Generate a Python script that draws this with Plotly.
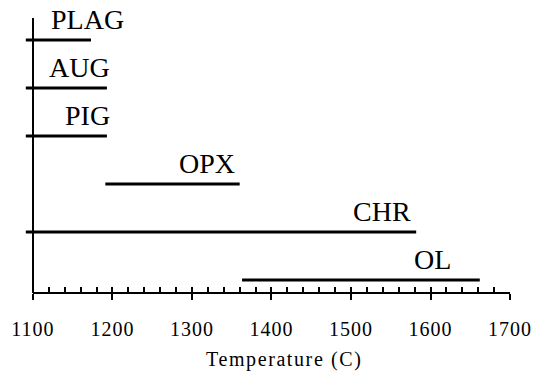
import plotly.graph_objects as go

# ---- data ----
minerals = ["PLAG", "AUG", "PIG", "OPX", "CHR", "OL"]
levels = [6, 5, 4, 3, 2, 1]
t_start = [1091, 1091, 1091, 1191, 1091, 1363]
t_end = [1173, 1193, 1193, 1360, 1582, 1662]
label_x = [1217, 1199, 1199, 1357, 1578, 1628]
tick_vals = [1100, 1200, 1300, 1400, 1500, 1600, 1700]
tick_text = [str(v) for v in tick_vals]
x_title = "Temperature (C)"

FONT = "Liberation Serif"
X_RANGE = [1086.2, 1700]
Y_RANGE = [0.729, 6.458]

fig = go.Figure()
for name, lv, a, b in zip(minerals, levels, t_start, t_end):
    fig.add_trace(go.Scatter(x=[a, b], y=[lv, lv], mode="lines",
                             line=dict(color="black", width=3),
                             showlegend=False, hoverinfo="skip", name=name))

# invisible trace so the overlay tick axis is drawn
fig.add_trace(go.Scatter(x=[tick_vals[0], tick_vals[-1]], y=[levels[-1], levels[-1]],
                         xaxis="x2", mode="lines", line=dict(width=0),
                         opacity=0, showlegend=False, hoverinfo="skip"))

for name, lv, lx in zip(minerals, levels, label_x):
    fig.add_annotation(x=lx, y=lv, xref="x", yref="y", text=name,
                       xanchor="right", yanchor="bottom", yshift=3,
                       showarrow=False,
                       font=dict(family=FONT, size=28, color="black"))

fig.add_annotation(x=1415.7, y=-0.24, xref="x", yref="paper",
                   text='<span style="letter-spacing:1.6px">' + x_title + "</span>",
                   xanchor="center", yanchor="middle", showarrow=False,
                   font=dict(family=FONT, size=20, color="black"))

# x axis base line from first to last tick
fig.add_shape(type="line", xref="x", yref="paper", x0=tick_vals[0], x1=tick_vals[-1],
              y0=0, y1=0, line=dict(color="black", width=2))

fig.update_layout(
    width=533, height=372,
    margin=dict(l=22, r=23, t=18, b=79),
    paper_bgcolor="white", plot_bgcolor="white",
    xaxis=dict(range=X_RANGE, showgrid=False, zeroline=False, showline=False,
               automargin=False,
               tickmode="array", tickvals=tick_vals,
               ticktext=['<span style="letter-spacing:1px">' + t + "</span>" for t in tick_text],
               ticks="outside", ticklen=6, tickwidth=2, tickcolor="black",
               ticklabelstandoff=12,
               tickfont=dict(family=FONT, size=20, color="black")),
    xaxis2=dict(range=X_RANGE, overlaying="x", anchor="y", side="bottom",
                automargin=False,
                showgrid=False, zeroline=False, showline=False,
                showticklabels=False, tick0=1100, dtick=20,
                ticks="inside", ticklen=6, tickwidth=1.5, tickcolor="black"),
    yaxis=dict(range=Y_RANGE, showgrid=False, zeroline=False, showline=True,
               automargin=False,
               linecolor="black", linewidth=2, showticklabels=False, ticks="",
               anchor="free", position=0.0225),
)

fig.write_html("out.html", config={"displayModeBar": False},
               post_script="document.body.style.margin='0';document.body.style.overflow='hidden';")
